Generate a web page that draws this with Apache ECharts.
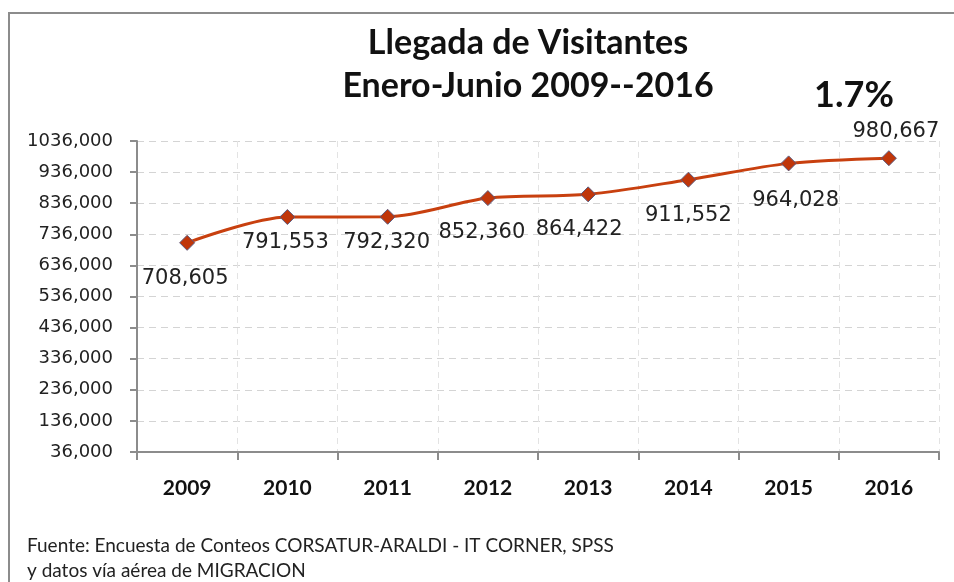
<!DOCTYPE html>
<html>
<head>
<meta charset="utf-8">
<script src="https://cdn.jsdelivr.net/npm/echarts@6/dist/echarts.min.js"></script>
<style>
    html, body {margin: 0; padding: 0; background: #fff;}
    #chart {width: 954px; height: 582px;}
</style>
</head>
<body>
<div id="chart"></div>
<script>
    // datos del gráfico
    const years = ['2009', '2010', '2011', '2012', '2013', '2014', '2015', '2016'];
    const visitantes = [708605, 791553, 792320, 852360, 864422, 911552, 964028, 980667];
    const yTicks = [36000, 1036000, 100000]; // min, max, intervalo

    // desplazamiento de cada etiqueta respecto al punto (solo diseño)
    const labelOffsets = [[-2, 36], [-2, 26], [-1, 26], [-6, 34], [-9, 35], [0, 36], [7, 37], [7, -27]];

    const fmt = v => {
        let s = String(Math.round(v));
        return s.slice(0, s.length - 3) + ',' + s.slice(-3);
    };

    let chart = echarts.init(document.getElementById('chart'));
    let option = {
        backgroundColor: '#fff',
        animation: false,
        graphic: [
            {
                // borde del cuadro (solo arriba e izquierda son visibles)
                type: 'polyline', silent: true,
                shape: {points: [[9, 600], [9, 13], [960, 13]]},
                style: {fill: 'none', stroke: '#8c8c8c', lineWidth: 2}
            },
            {
                type: 'text', left: 27, top: 533,
                style: {
                    text: 'Fuente: Encuesta de Conteos CORSATUR-ARALDI - IT CORNER, SPSS\ny datos vía aérea de MIGRACION',
                    font: '19px Lato', fill: '#222', lineHeight: 25
                }
            }
        ],
        title: [
            {
                text: 'Llegada de Visitantes\nEnero-Junio 2009--2016',
                left: 523, top: 17, textAlign: 'center',
                textStyle: {fontFamily: 'Lato', fontWeight: 'bold', fontSize: 34, lineHeight: 43, color: '#111'}
            },
            {
                text: '1.7%',
                left: 849, top: 72, textAlign: 'center',
                textStyle: {fontFamily: 'Lato', fontWeight: 'bold', fontSize: 36, color: '#111'}
            }
        ],
        grid: {left: 137, right: 15, top: 141, bottom: 130},
        xAxis: {
            type: 'category',
            data: years,
            boundaryGap: true,
            axisLine: {lineStyle: {color: '#8c8c8c', width: 2}},
            axisTick: {show: true, length: 8, lineStyle: {color: '#8c8c8c', width: 2}},
            axisLabel: {margin: 26, color: '#111', fontFamily: 'Lato', fontWeight: 'bold', fontSize: 21},
            splitLine: {show: true, lineStyle: {color: '#e3e3e3', type: [6, 5], width: 1}}
        },
        yAxis: {
            type: 'value',
            min: yTicks[0],
            max: yTicks[1],
            interval: yTicks[2],
            axisLine: {show: true, lineStyle: {color: '#8c8c8c', width: 2}},
            axisTick: {show: true, length: 7, lineStyle: {color: '#8c8c8c', width: 2}},
            axisLabel: {
                margin: 24, color: '#222', fontFamily: 'DejaVu Sans', fontSize: 18,
                formatter: v => fmt(v)
            },
            splitLine: {show: true, lineStyle: {color: '#d4d4d4', type: [7, 5], width: 1}}
        },
        series: [{
            type: 'line',
            smooth: 0.3,
            data: visitantes.map((v, i) => ({
                value: v,
                label: {offset: labelOffsets[i]}
            })),
            symbol: 'diamond',
            symbolSize: 15,
            lineStyle: {color: '#c8400f', width: 3},
            itemStyle: {color: '#c0360a', borderColor: '#5d5a7e', borderWidth: 1},
            label: {
                show: true,
                position: 'inside',
                align: 'center',
                verticalAlign: 'middle',
                color: '#222',
                fontFamily: 'DejaVu Sans',
                fontSize: 21,
                formatter: p => fmt(p.value)
            },
            z: 5
        }]
    };
    chart.setOption(option);
</script>
</body>
</html>
